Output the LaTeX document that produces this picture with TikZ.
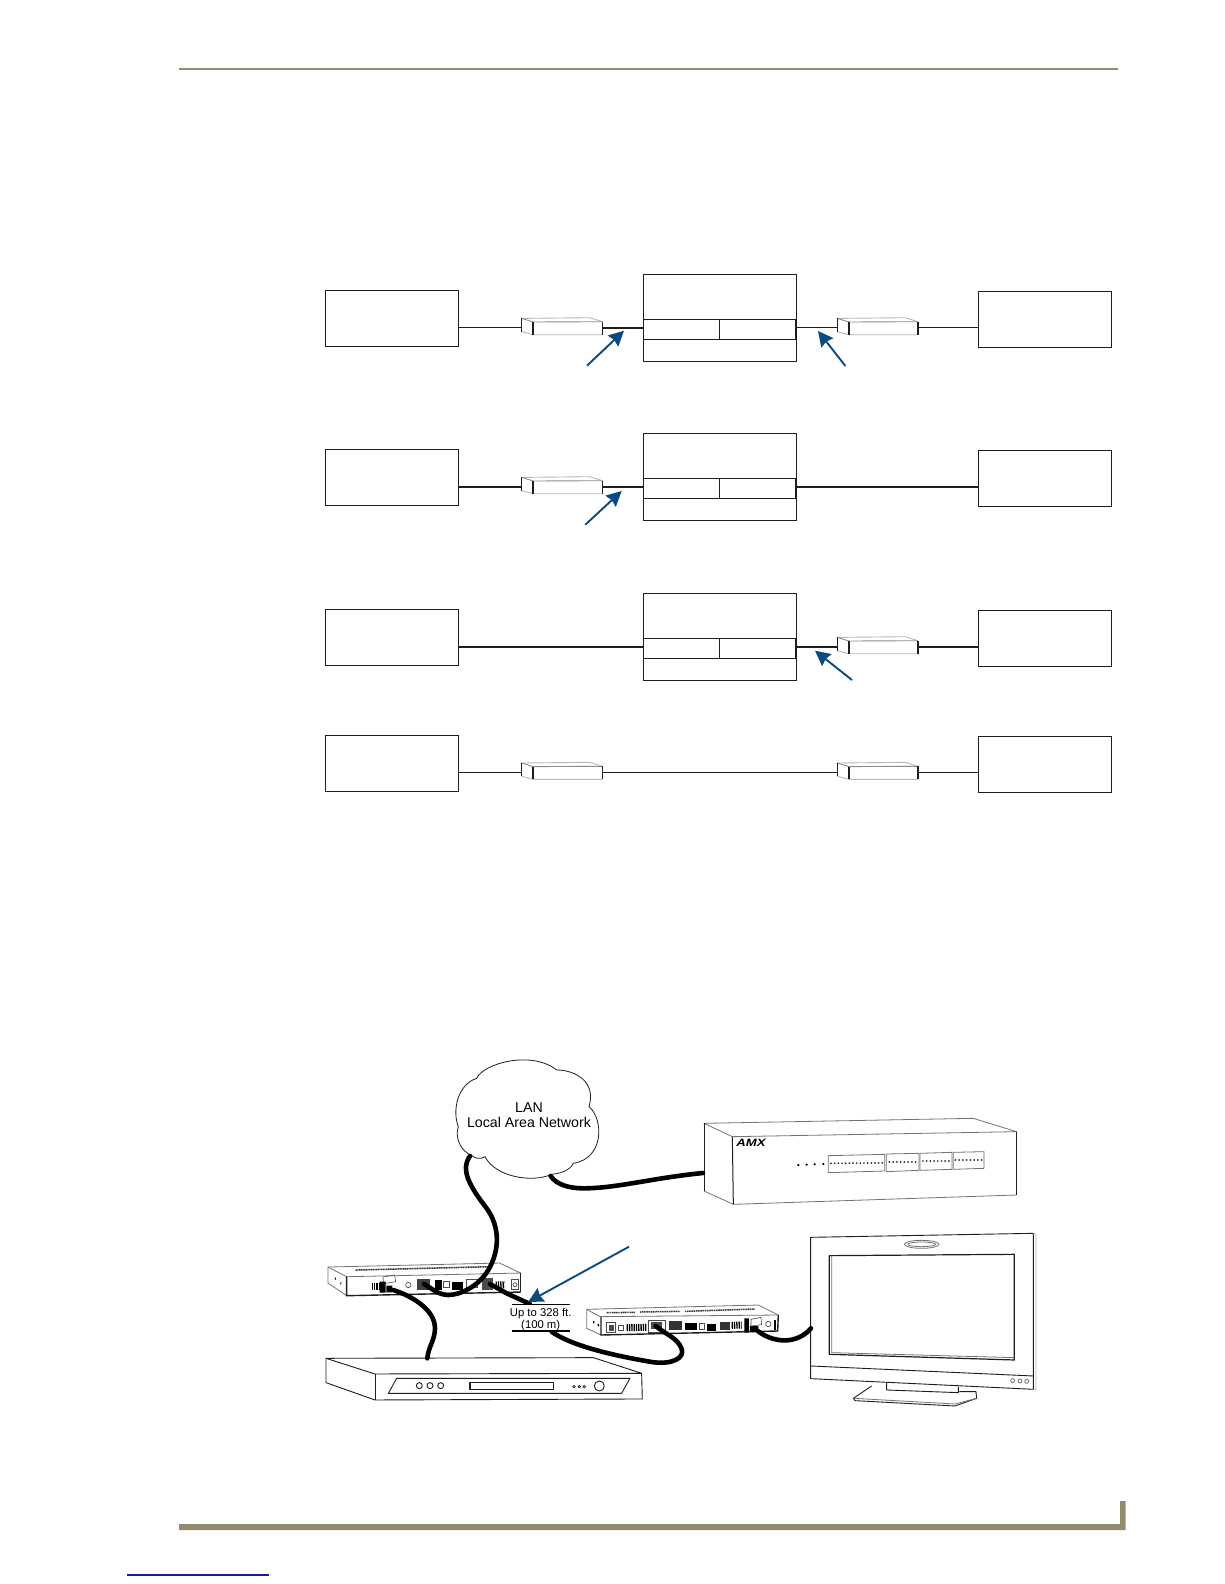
\documentclass[tikz,border=0pt]{standalone}
\usepackage{fontspec}
\setmainfont{Liberation Sans}
\usetikzlibrary{arrows.meta,fit}
\definecolor{rulecol}{HTML}{918C6E}
\definecolor{bluearrow}{HTML}{0B4A80}
\definecolor{inkcol}{HTML}{1E1E1E}
\definecolor{linkcol}{HTML}{1A1A9A}
\tikzset{
  boxst/.style={draw=inkcol,line width=1.4pt,fill=white,inner sep=0pt,rectangle},
  wirethin/.style={draw=inkcol,line width=1.3pt},
  wiremid/.style={draw=inkcol,line width=1.6pt},
  wirethick/.style={draw=inkcol,line width=2.2pt},
  pointer/.style={draw=bluearrow,line width=1.9pt,-{Stealth[length=15pt,width=15pt,inset=1.5pt]}},
  cablest/.style={draw=black,line width=4.6pt,line cap=round,line join=round},
  outl/.style={draw=inkcol,line width=0.9pt,line join=round},
  greyl/.style={draw=black!55,line width=0.8pt,line join=round},
  lightl/.style={draw=black!28,line width=0.9pt,line join=round},
  lab/.style={inner sep=0pt,align=center}
}
\newcommand{\balunshape}[3]{%
  \begin{scope}[shift={(#2,#3)}]
    \coordinate (#1-w) at (0,0);
    \coordinate (#1-e) at (80.6,0);
    \fill[white] (0,-9.3) -- (68,-10) -- (80.6,-6) -- (80.6,7) -- (11.6,7) -- (0,4) -- cycle;
    \draw[lightl] (0,-9.3) -- (68,-10) -- (80.6,-6);
    \draw[lightl] (0,4) -- (11.6,7) -- (80.6,7);
    \draw[lightl,draw=black!45] (0,-9.3) -- (11.6,-5.7) -- (80.6,-6);
    \draw[inkcol,line width=0.9pt] (0,-9.3) -- (0,4);
    \draw[inkcol,line width=1.7pt] (11.6,-5.7) -- (11.6,7);
    \draw[inkcol,line width=1.4pt] (80.6,-6) -- (80.6,7);
  \end{scope}}
\newcommand{\centerunit}[2]{% name, top y
  \node[boxst,fit={(643.3,#2)(796.7,#2+87)}] (#1) {};
  \draw[wirethin] (#1.west |- 0,#2+45) -- (#1.east |- 0,#2+45);
  \draw[wirethin] (#1.west |- 0,#2+65) -- (#1.east |- 0,#2+65);
  \draw[wirethin] (719.3,#2+45) -- (719.3,#2+65);
  \draw[inkcol,line width=1.8pt] (795.6,#2+45) -- (795.6,#2+65);}
\begin{document}
\begin{tikzpicture}[x=1pt,y=-1pt]
\useasboundingbox (0,0) rectangle (1224,1584);
\fill[white] (0,0) rectangle (1224,1584);
% page rules
\coordinate (ruleA) at (179,69);
\coordinate (ruleB) at (1118,69);
\draw[rulecol,line width=2.2pt] (ruleA) -- (ruleB);
\fill[rulecol] (179,1524) -- (1120,1524) -- (1120,1501) -- (1125.7,1501) -- (1125.7,1530) -- (179,1530) -- cycle;
\coordinate (linkA) at (127,1575);
\coordinate (linkB) at (269,1575);
\draw[linkcol,line width=1.1pt] (linkA) -- (linkB);

% row 1
\node[boxst,fit={(325.3,290.3)(458.7,346.3)}] (L1) {};
\node[boxst,fit={(978.3,291.3)(1111.7,347.3)}] (R1) {};
\centerunit{C1}{274.3}
\balunshape{b1a}{521.7}{327.7}
\balunshape{b1b}{837.3}{327.7}
\draw[wirethin] (L1.east |- b1a-w) -- (b1a-w);
\draw[wiremid] (b1a-e) -- (C1.west |- b1a-e);
\draw[wirethin] (C1.east |- b1b-w) -- (b1b-w);
\draw[wirethin] (b1b-e) -- (R1.west |- b1b-e);
\coordinate (p1s) at (587,365.7); \coordinate (p1e) at (624,330.7);
\draw[pointer] (p1s) -- (p1e);
\coordinate (p2s) at (845.4,366); \coordinate (p2e) at (818,331);
\draw[pointer] (p2s) -- (p2e);

% row 2
\node[boxst,fit={(325.3,449.3)(458.7,505.3)}] (L2) {};
\node[boxst,fit={(978.3,450.3)(1111.7,506.3)}] (R2) {};
\centerunit{C2}{433.3}
\balunshape{b2a}{521.7}{486.7}
\draw[wiremid] (L2.east |- b2a-w) -- (b2a-w);
\draw[wiremid] (b2a-e) -- (C2.west |- b2a-e);
\draw[wirethick] (C2.east |- b2a-e) -- (R2.west |- b2a-e);
\coordinate (p3s) at (585.3,524.7); \coordinate (p3e) at (621.7,491);
\draw[pointer] (p3s) -- (p3e);

% row 3
\node[boxst,fit={(325.3,609.3)(458.7,665.3)}] (L3) {};
\node[boxst,fit={(978.3,610.3)(1111.7,666.3)}] (R3) {};
\centerunit{C3}{593.3}
\balunshape{b3b}{837.3}{646.7}
\draw[wiremid] (L3.east |- b3b-w) -- (C3.west |- b3b-w);
\draw[wirethick] (C3.east |- b3b-w) -- (b3b-w);
\draw[wirethick] (b3b-e) -- (R3.west |- b3b-e);
\coordinate (p4s) at (852,680); \coordinate (p4e) at (815,650.7);
\draw[pointer] (p4s) -- (p4e);

% row 4
\node[boxst,fit={(325.3,735.3)(458.7,791.3)}] (L4) {};
\node[boxst,fit={(978.3,736.7)(1111.7,792.7)}] (R4) {};
\balunshape{b4a}{521.7}{772.3}
\balunshape{b4b}{837.3}{772.3}
\draw[wirethin] (L4.east |- b4a-w) -- (b4a-w);
\draw[wirethin] (b4a-e) -- (b4b-w);
\draw[wirethin] (b4b-e) -- (R4.west |- b4b-e);

% ===== lower scene =====
% controller
\begin{scope}[shift={(680,1090)},scale=0.3333]
  \draw[greyl] (72,100) -- (880,85) -- (1010,125) -- (157,140) -- cycle;
  \draw[greyl] (72,303) -- (160,343) -- (1010,315);
  \draw[outl,line width=1pt] (72,100) -- (72,303);
  \draw[outl,line width=1pt] (157,140) -- (160,343);
  \draw[outl,line width=1.2pt] (1010,125) -- (1010,315);
  \node[lab,font=\fontsize{10.5}{11}\selectfont\bfseries\itshape] (amx) at (213,160) {\scalebox{1.25}[1]{AMX}};
  \foreach \dx/\dy in {355/225,380/224,404/223,430/222} \fill[black] (\dx,\dy) circle (3.6);
  \draw[greyl] (445,197) -- (614,193) -- (614,243) -- (445,248) -- cycle;
  \draw[greyl] (619,192) -- (717,190) -- (717,241) -- (619,245) -- cycle;
  \draw[greyl] (720,190) -- (816,187) -- (816,238) -- (720,241) -- cycle;
  \draw[greyl] (820,187) -- (912,185) -- (912,235) -- (820,238) -- cycle;
  \foreach \i in {0,...,14} \fill[black!85] ({453+11*\i},{220-0.1*\i}) circle (2.9);
  \foreach \i in {0,...,7} \fill[black!85] ({628+11.3*\i},216) circle (2.9);
  \foreach \i in {0,...,7} \fill[black!85] ({729+11.1*\i},213) circle (2.9);
  \foreach \i in {0,...,7} \fill[black!85] ({826+11.3*\i},210) circle (2.9);
  \coordinate (ctrlin) at (72,250);
\end{scope}

% monitor
\begin{scope}[shift={(680,1090)},scale=0.3333]
  \draw[outl] (392,442) -- (1060,430) -- (1060,898) -- (392,866) -- cycle;
  \draw[lightl] (1060,430) -- (1068,432) -- (1068,898) -- (1060,898);
  \draw[outl] (392,828) -- (1060,858);
  \draw[outl,line width=1.2pt] (448,497) -- (1003,493) -- (1003,810) -- (448,793) -- cycle;
  \draw[greyl] (455,497) -- (455,788) -- (1003,803);
  \draw[greyl] (725,463) ellipse (52 and 12);
  \draw[greyl] (725,463) ellipse (42 and 7);
  \foreach \bx/\by in {998/872,1020/873,1040/874} \draw[greyl] (\bx,\by) circle (6);
  \draw[outl] (620,878) -- (620,900) -- (835,908) -- (835,890);
  \draw[outl] (575,888) -- (520,925) -- (525,932) -- (825,948) -- (890,925) -- (888,905) -- (838,905);
  \draw[greyl] (520,925) -- (825,942) -- (890,925);
  \coordinate (monin) at (393,715);
\end{scope}

% player
\begin{scope}[shift={(300,1080)},scale=0.3333]
  \draw[outl] (78,835) -- (880,833) -- (1025,880) -- (225,882) -- cycle;
  \draw[outl] (78,835) -- (78,908) -- (225,960) -- (1027,957) -- (1025,880);
  \draw[outl] (225,882) -- (225,960);
  \draw[outl] (290,895) -- (990,895) -- (965,940) -- (265,940) -- cycle;
  \foreach \cx in {358,390,422} \draw[outl] (\cx,917) circle (9);
  \draw[outl,line width=1.1pt] (510,907) rectangle (760,928);
  \foreach \cx in {822,838,853} \draw[outl,line width=0.7pt] (\cx,920) circle (4);
  \draw[outl] (898,918) circle (15);
  \coordinate (playin) at (382,835);
\end{scope}

% cloud
\begin{scope}[shift={(445,1055)},scale=0.3333]
  \draw[outl,fill=white,line width=0.8pt] (78,300)
    .. controls (50,290) and (28,250) .. (40,215)
    .. controls (22,170) and (35,90) .. (95,70)
    .. controls (115,25) and (260,-15) .. (335,45)
    .. controls (390,45) and (455,80) .. (432,155)
    .. controls (475,190) and (480,310) .. (385,325)
    .. controls (375,345) and (350,355) .. (320,358)
    .. controls (260,385) and (150,365) .. (120,305)
    .. controls (105,315) and (90,310) .. (78,300);
  \node[lab,font=\fontsize{14.2}{14.4}\selectfont] (lan) at (252,180) {LAN\\Local Area Network};
  \coordinate (cloudA) at (76,302);
  \coordinate (cloudB) at (318,358);
\end{scope}

% rack unit 1
\begin{scope}[shift={(326.3,1257.7)},scale=0.3333]
  \fill[white] (5,28) -- (520,16) -- (583,46) -- (583,103) -- (61,114) -- (5,76) -- cycle;
  \draw[greyl] (5,28) -- (520,16) -- (583,46);
  \draw[greyl] (5,28) -- (61,57) -- (583,46);
  \draw[greyl] (5,28) -- (5,76) -- (61,114);
  \draw[inkcol,line width=1.4pt] (61,57) -- (61,114) -- (583,103);
  \draw[inkcol,line width=1pt] (583,46) -- (583,103);
  \draw[black!80,line width=1.5pt,dash pattern=on 1.2pt off 0.5pt] (88,37) -- (490,27);
  \fill[black] (26,60) rectangle (29,66) (42,74) rectangle (45,80);
  \draw[black,line width=7pt,dash pattern=on 1.3pt off 1pt] (136,85) -- (158,85);
  \draw[black!70,line width=0.6pt] (170,58) -- (205,52) -- (208,72) -- (172,78) -- cycle;
  \fill[black] (160,72) rectangle (178,105) (180,84) rectangle (198,104);
  \draw[black!70,line width=0.7pt] (246,82) circle (8);
  \fill[black!75] (272,64) rectangle (311,96);
  \fill[black] (326,68) rectangle (346,97);
  \draw[black!70,line width=0.7pt] (352,72) rectangle (368,90);
  \fill[black] (378,72) rectangle (411,97);
  \draw[black!70,line width=0.7pt] (420,66) rectangle (452,90);
  \fill[black!70] (466,60) rectangle (501,96);
  \draw[black,line width=7pt,dash pattern=on 1.3pt off 1pt] (508,82) -- (536,81);
  \draw[black!70,line width=0.7pt] (556,66) rectangle (576,96);
  \draw[black!70,line width=0.7pt] (566,81) circle (6);
\end{scope}

% rack unit 2
\begin{scope}[shift={(585,1300)},scale=0.3333]
  \fill[white] (5,28) -- (520,15) -- (580,45) -- (578,93) -- (48,105) -- (5,85) -- cycle;
  \draw[greyl] (5,28) -- (520,15) -- (580,45);
  \draw[greyl] (5,28) -- (45,50) -- (580,45);
  \draw[greyl] (5,28) -- (5,85) -- (48,105);
  \draw[inkcol,line width=1.4pt] (48,50) -- (48,105) -- (578,93) -- (580,45);
  \draw[black!80,line width=1.5pt,dash pattern=on 1.2pt off 0.6pt] (65,38) -- (150,37);
  \draw[black!80,line width=1.5pt,dash pattern=on 1.2pt off 0.6pt] (165,36) -- (285,34);
  \draw[black!80,line width=1.5pt,dash pattern=on 1.2pt off 0.6pt] (300,34) -- (510,27);
  \fill[black] (24,63) rectangle (28,70) (38,72) rectangle (42,79);
  \draw[black!70,line width=0.7pt] (65,68) rectangle (92,98) (100,75) rectangle (116,90);
  \fill[black!70] (72,76) rectangle (86,92);
  \draw[black,line width=7pt,dash pattern=on 1.3pt off 1pt] (125,83) -- (186,82);
  \draw[black!70,line width=0.7pt] (190,60) rectangle (240,96);
  \fill[black!70] (198,66) rectangle (232,88);
  \fill[black!80] (252,62) rectangle (290,90);
  \fill[black] (300,68) rectangle (336,90);
  \draw[black!70,line width=0.7pt] (342,70) rectangle (358,88);
  \fill[black] (365,72) rectangle (392,94);
  \fill[black!80] (405,66) rectangle (436,90);
  \draw[black,line width=7pt,dash pattern=on 1.3pt off 1pt] (440,76) -- (470,75);
  \fill[black] (478,55) rectangle (492,98) (495,78) rectangle (520,96);
  \draw[black!70,line width=0.6pt] (498,58) -- (528,52) -- (530,74) -- (498,78) -- cycle;
  \draw[black!70,line width=0.7pt] (550,72) circle (8);
  \draw[black,line width=1.2pt] (570,60) -- (570,90);
\end{scope}

% cables
\begin{scope}[shift={(300,1080)},scale=0.3333]
  \draw[cablest] (510,228) .. controls (480,270) and (510,320) .. (560,385) .. controls (600,440) and (600,510) .. (565,570) .. controls (535,620) and (480,645) .. (445,645) .. controls (415,645) and (395,625) .. (372,612);
  \draw[cablest] (280,630) .. controls (340,650) and (405,690) .. (405,745) .. controls (405,780) and (385,800) .. (382,835);
  \draw[cablest] (752,288) .. controls (770,315) and (810,325) .. (850,325) .. controls (950,325) and (1050,295) .. (1209,279);
  \draw[cablest] (570,612) -- (620,640) -- (690,672);
\end{scope}
\draw[cablest] (551.7,1331.7) .. controls (570,1345) and (610,1355) .. (651.7,1362) .. controls (672,1365) and (685,1358) .. (681.7,1349) .. controls (678,1338) and (665,1334) .. (655.7,1326);
\begin{scope}[shift={(680,1090)},scale=0.3333]
  \draw[cablest] (232,722) .. controls (260,745) and (300,755) .. (330,750) .. controls (360,745) and (380,730) .. (393,715);
\end{scope}

% distance label
\coordinate (ua) at (511.7,1304.3); \coordinate (ub) at (570,1304.3);
\coordinate (va) at (511.7,1330.7); \coordinate (vb) at (570,1330.7);
\fill[white] (ua) rectangle (vb);
\draw[black,line width=1.6pt] (ua) -- (ub);
\draw[black,line width=1.6pt] (va) -- (vb);
\node[lab,font=\fontsize{11.3}{11.2}\selectfont] (dist) at (540.7,1319.5) {Up to 328 ft.\\(100 m)};
\coordinate (p5s) at (629,1246.7); \coordinate (p5e) at (528,1302);
\draw[pointer] (p5s) -- (p5e);
\end{tikzpicture}
\end{document}
